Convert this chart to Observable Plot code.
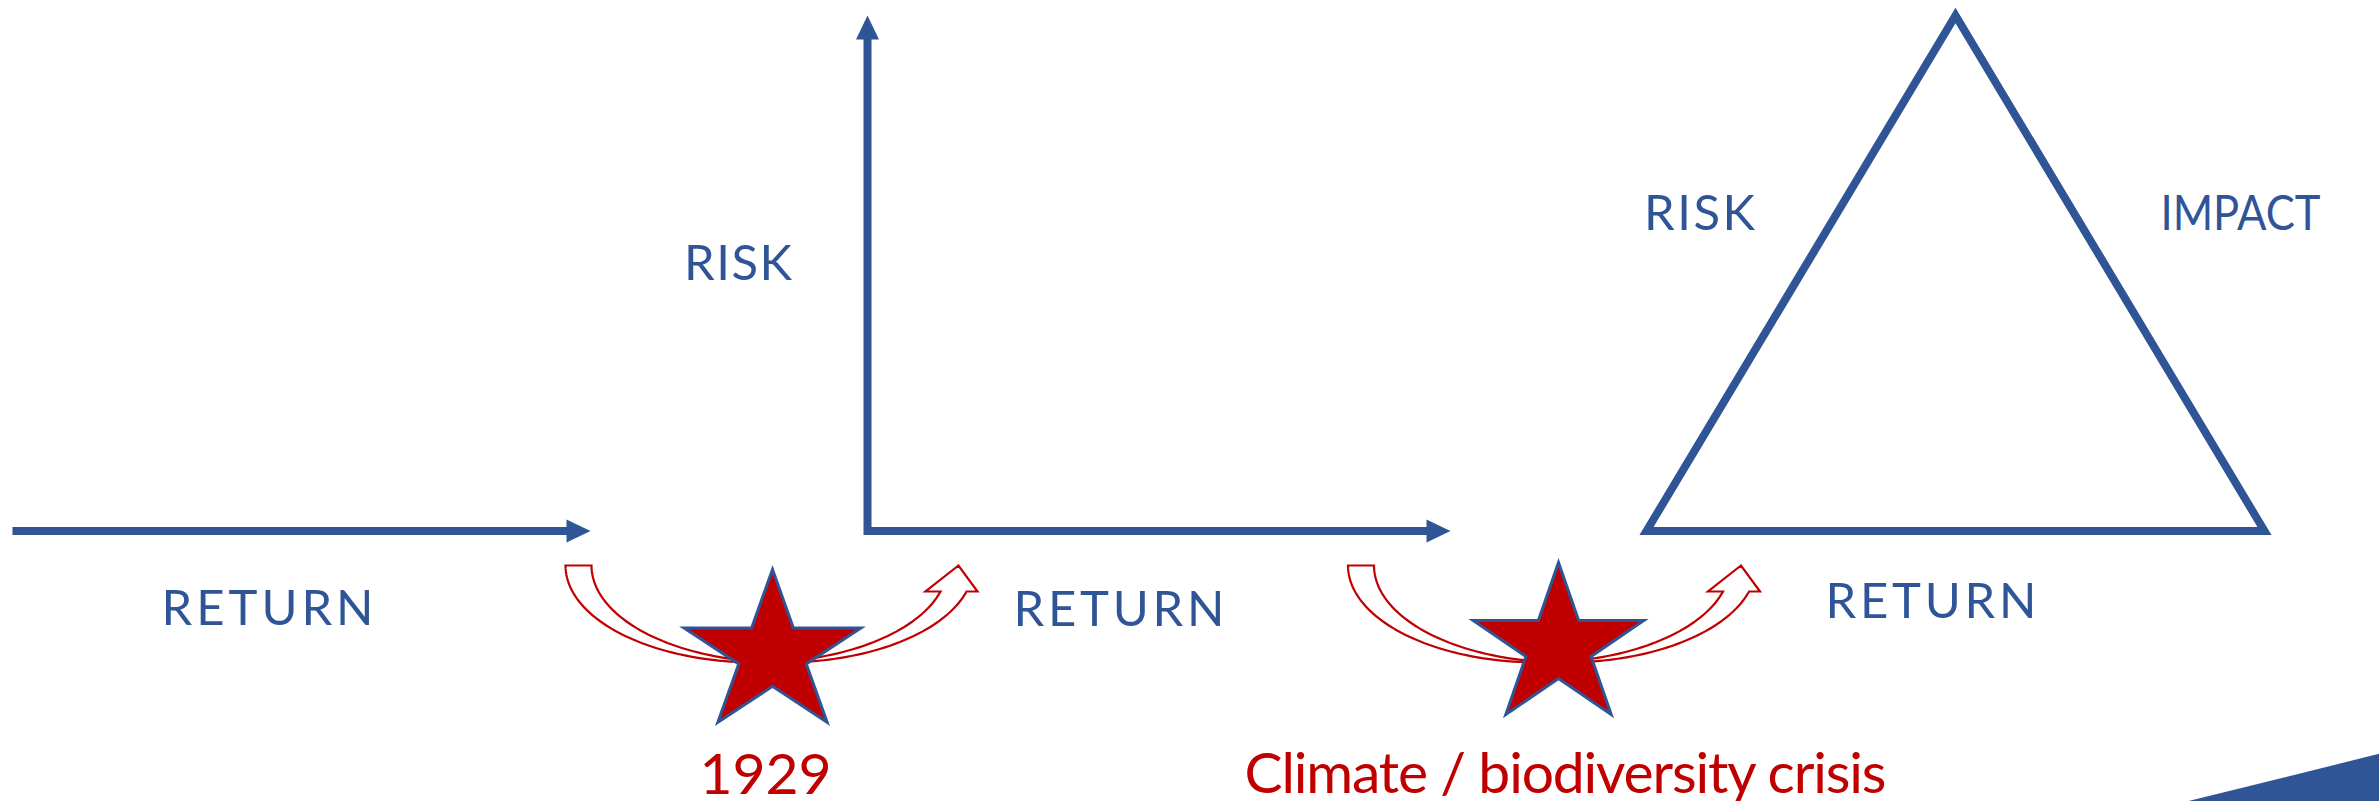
<!DOCTYPE html>
<html>
<head>
<meta charset="utf-8">
<script src="https://cdn.jsdelivr.net/npm/d3@7"></script>
<script src="https://cdn.jsdelivr.net/npm/@observablehq/plot@0.6"></script>
<style>
html, body { margin: 0; padding: 0; background: #fff; overflow: hidden; }
</style>
</head>
<body>
<div id="chart"></div>
<script>
const BLUE = "#2F5597", RED = "#C00000";

// ---- Data (diagram units: 2379 x 801 canvas) ----
// Blue axis labels
const labelText = ["RETURN", "RISK", "RETURN", "RISK", "IMPACT", "RETURN"];
const labelX = [267, 737.5, 1118.5, 1699, 2240, 1930.5];
const labelY = [624, 279, 625, 229, 229, 617];

// Red event labels
const eventText = ["1929", "Climate / biodiversity crisis"];
const eventX = [765, 1565];
const eventY = [793, 792];

// Event stars
const starX = [772, 1558];
const starY = [653.5, 646];
const starR = [84.5, 84];
const starStretch = [1.1, 1.067];

// Curved "swing" arrows around each event
const swingX = [756, 1538.5];
const swingTop = [565, 565];

// Frame 1: single return axis (tail, tip)
const axis1 = [[12, 530.5], [590, 530.5]];
// Frame 2: risk (tip), origin, return (tip)
const axis2 = [[867, 15], [867, 530.5], [1450, 530.5]];
// Frame 3: risk / return / impact triangle
const triangle = [[1646, 530.5], [1955, 15], [2264, 530.5]];
// Corner wedge
const wedge = [[2182, 802], [2380, 753], [2380, 802]];

// ---- Geometry helpers ----
const HEAD_LEN = 24, HEAD_HALF = 11.5;
function unit(a, b) {
  const dx = b[0] - a[0], dy = b[1] - a[1], L = Math.hypot(dx, dy);
  return [dx / L, dy / L];
}
function head(tail, tip, id) {
  const [ux, uy] = unit(tail, tip);
  const bx = tip[0] - ux * HEAD_LEN, by = tip[1] - uy * HEAD_LEN;
  return [[bx - uy * HEAD_HALF, by + ux * HEAD_HALF], tip, [bx + uy * HEAD_HALF, by - ux * HEAD_HALF]]
    .map(([x, y]) => ({id, x, y}));
}
function shaftEnd(tail, tip) {
  const [ux, uy] = unit(tail, tip);
  return [tip[0] - ux * (HEAD_LEN - 4), tip[1] - uy * (HEAD_LEN - 4)];
}
const pts = (arr, id) => arr.map(([x, y]) => ({id, x, y}));

const shafts = [
  ...pts([axis1[0], shaftEnd(axis1[0], axis1[1])], "s1"),
  ...pts([shaftEnd(axis2[1], axis2[0]), axis2[1], shaftEnd(axis2[1], axis2[2])], "s2")
];
const heads = [
  ...head(axis1[0], axis1[1], "h1"),
  ...head(axis2[1], axis2[0], "h2"),
  ...head(axis2[1], axis2[2], "h3")
];
const tri = pts([...triangle, triangle[0], triangle[1]], "tri");

function star(i) {
  const out = [];
  const R = starR[i], r = R * 0.381966;
  for (let k = 0; k <= 11; k++) {
    const a = -Math.PI / 2 + k * Math.PI / 5;
    const rad = k % 2 === 0 ? R : r;
    out.push({id: "star" + i, x: starX[i] + starStretch[i] * rad * Math.cos(a), y: starY[i] + rad * Math.sin(a)});
  }
  return out;
}
const stars = [...star(0), ...star(1)];

const RX = 191, RY = 97, BAND = 26;
function swing(i) {
  const cx = swingX[i], top = swingTop[i];
  const p = [];
  const tEnd = Math.asin(BAND / RY), N = 90;
  for (let k = 0; k <= N; k++) {
    const t = Math.PI - (Math.PI - tEnd) * k / N;
    p.push([cx + RX * Math.cos(t), top + RY * Math.sin(t)]);
  }
  p.push([cx + 169, top + BAND], [cx + 202, top], [cx + 221, top + BAND]);
  for (let k = 0; k <= N; k++) {
    const t = tEnd + (Math.PI - tEnd) * k / N;
    p.push([cx + BAND + RX * Math.cos(t), top + RY * Math.sin(t)]);
  }
  p.push(p[0], p[1]);
  return pts(p, "swing" + i);
}
const swings = [...swing(0), ...swing(1)];

const labels = labelText.map((t, i) => ({t, x: labelX[i], y: labelY[i]}));
const events = eventText.map((t, i) => ({t, x: eventX[i], y: eventY[i]}));

const chart = Plot.plot({
  width: 2379,
  height: 801,
  margin: 0,
  x: {domain: [0, 2379], range: [0, 2379], axis: null},
  y: {domain: [0, 801], range: [0, 801], axis: null},
  style: {background: "white", fontFamily: "Lato"},
  marks: [
    Plot.line(wedge.map(([x, y]) => ({x, y})), {x: "x", y: "y", fill: BLUE, stroke: "none"}),
    Plot.line(shafts, {x: "x", y: "y", z: "id", stroke: BLUE, strokeWidth: 8, strokeLinecap: "butt", strokeLinejoin: "miter", strokeMiterlimit: 10}),
    Plot.line(heads, {x: "x", y: "y", z: "id", fill: BLUE, stroke: "none"}),
    Plot.line(tri, {x: "x", y: "y", z: "id", stroke: BLUE, strokeWidth: 8, strokeLinecap: "butt", strokeLinejoin: "miter", strokeMiterlimit: 10}),
    Plot.line(swings, {x: "x", y: "y", z: "id", fill: "white", stroke: RED, strokeWidth: 2.2, strokeLinecap: "butt", strokeLinejoin: "miter", strokeMiterlimit: 10}),
    Plot.line(stars, {x: "x", y: "y", z: "id", fill: RED, stroke: BLUE, strokeWidth: 3, strokeLinecap: "butt", strokeLinejoin: "miter", strokeMiterlimit: 10}),
    Plot.text(labels, {x: "x", y: "y", text: "t", fill: BLUE, fontSize: 49, fontFamily: "Lato", lineAnchor: "bottom", textAnchor: "middle"}),
    Plot.text(events, {x: "x", y: "y", text: "t", fill: RED, fontSize: 57, fontFamily: "Lato", lineAnchor: "bottom", textAnchor: "middle"})
  ]
});
document.getElementById("chart").appendChild(chart);

// Typesetting: match the set width of each label.
// Texts appear in mark order: 6 axis labels, then 2 event labels.
const setWidth = [212, 108, 211, 111, 160, 211, null, 642];
const setAdjust = ["spacing", "spacing", "spacing", "spacing", "spacingAndGlyphs", "spacing", null, "spacing"];
const texts = chart.querySelectorAll("text");
texts.forEach((el, i) => {
  const w = setWidth[i];
  if (w) {
    el.setAttribute("textLength", w);
    el.setAttribute("lengthAdjust", setAdjust[i]);
  }
});
</script>
</body>
</html>
